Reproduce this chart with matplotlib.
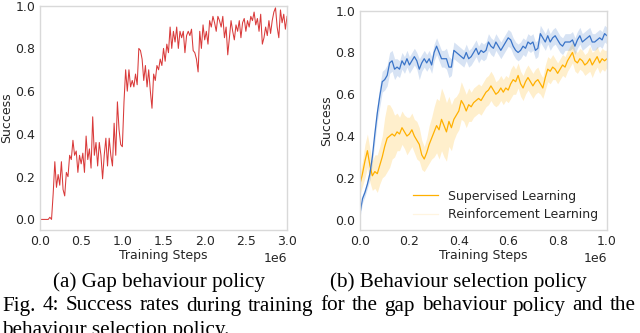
import matplotlib
matplotlib.use("Agg")
import matplotlib.pyplot as plt
import numpy as np

# (a) gap behaviour policy, one run, 0 .. 3e6 steps
gap_steps = np.linspace(0, 3.0e6, 151)
gap_success = [
    0.00, 0.00, 0.00, 0.00, 0.00, 0.00, 0.01, 0.00, 0.12, 0.27,
    0.15, 0.21, 0.16, 0.27, 0.14, 0.11, 0.22, 0.20, 0.30, 0.28,
    0.37, 0.30, 0.32, 0.22, 0.30, 0.26, 0.31, 0.22, 0.39, 0.28,
    0.33, 0.24, 0.48, 0.30, 0.36, 0.25, 0.36, 0.30, 0.19, 0.30,
    0.38, 0.25, 0.38, 0.30, 0.25, 0.45, 0.30, 0.55, 0.42, 0.35,
    0.34, 0.55, 0.70, 0.60, 0.70, 0.62, 0.65, 0.62, 0.68, 0.63,
    0.80, 0.79, 0.75, 0.65, 0.72, 0.62, 0.70, 0.60, 0.52, 0.68,
    0.65, 0.72, 0.70, 0.75, 0.72, 0.80, 0.74, 0.82, 0.78, 0.90,
    0.80, 0.88, 0.83, 0.90, 0.80, 0.88, 0.85, 0.88, 0.78, 0.86,
    0.88, 0.86, 0.89, 0.79, 0.78, 0.75, 0.69, 0.88, 0.80, 0.91,
    0.84, 0.88, 0.82, 0.93, 0.90, 0.95, 0.92, 0.88, 0.95, 0.93,
    0.90, 0.95, 0.85, 0.90, 0.77, 0.85, 0.93, 0.88, 0.84, 0.91,
    0.88, 0.93, 0.85, 0.92, 0.94, 0.88, 0.93, 0.90, 0.95, 0.93,
    0.97, 0.91, 0.94, 0.88, 0.96, 0.82, 0.85, 0.90, 0.86, 0.93,
    0.87, 0.93, 0.97, 0.99, 0.90, 0.85, 0.98, 0.92, 0.96, 0.89,
    0.95,
]

# (b) behaviour selection policy, mean and band half width, 0 .. 1e6 steps
sel_steps = np.linspace(0, 1.0e6, 101)
sl_mean = [
    0.17, 0.22, 0.28, 0.33, 0.26, 0.21, 0.23, 0.22, 0.26, 0.30,
    0.35, 0.39, 0.40, 0.41, 0.40, 0.42, 0.41, 0.44, 0.42, 0.40,
    0.41, 0.43, 0.40, 0.38, 0.36, 0.31, 0.29, 0.32, 0.36, 0.39,
    0.42, 0.45, 0.43, 0.48, 0.45, 0.42, 0.47, 0.44, 0.48, 0.50,
    0.52, 0.57, 0.55, 0.52, 0.55, 0.54, 0.56, 0.57, 0.58, 0.57,
    0.59, 0.61, 0.62, 0.64, 0.62, 0.60, 0.61, 0.63, 0.61, 0.63,
    0.62, 0.65, 0.67, 0.66, 0.69, 0.65, 0.63, 0.66, 0.68, 0.66,
    0.64, 0.66, 0.67, 0.65, 0.63, 0.68, 0.72, 0.71, 0.73, 0.72,
    0.70, 0.72, 0.74, 0.73, 0.76, 0.78, 0.80, 0.76, 0.75, 0.77,
    0.76, 0.74, 0.75, 0.77, 0.74, 0.76, 0.78, 0.75, 0.77, 0.76,
    0.77,
]
sl_band = [
    0.05, 0.06, 0.08, 0.08, 0.08, 0.07, 0.08, 0.09, 0.09, 0.10,
    0.14, 0.16, 0.15, 0.12, 0.10, 0.09, 0.08, 0.08, 0.08, 0.09,
    0.08, 0.08, 0.08, 0.09, 0.08, 0.07, 0.06, 0.07, 0.09, 0.10,
    0.12, 0.13, 0.14, 0.15, 0.15, 0.14, 0.12, 0.11, 0.10, 0.09,
    0.09, 0.09, 0.08, 0.08, 0.08, 0.07, 0.07, 0.07, 0.07, 0.07,
    0.07, 0.07, 0.07, 0.07, 0.07, 0.06, 0.06, 0.06, 0.06, 0.06,
    0.06, 0.07, 0.07, 0.06, 0.06, 0.06, 0.06, 0.06, 0.06, 0.06,
    0.06, 0.06, 0.06, 0.05, 0.05, 0.06, 0.06, 0.06, 0.06, 0.05,
    0.05, 0.05, 0.05, 0.05, 0.05, 0.05, 0.05, 0.05, 0.05, 0.05,
    0.05, 0.05, 0.05, 0.06, 0.06, 0.05, 0.05, 0.05, 0.05, 0.05,
    0.04,
]
rl_mean = [
    0.03, 0.10, 0.13, 0.17, 0.22, 0.30, 0.41, 0.51, 0.59, 0.66,
    0.67, 0.69, 0.75, 0.76, 0.72, 0.73, 0.72, 0.76, 0.74, 0.77,
    0.74, 0.76, 0.78, 0.76, 0.72, 0.75, 0.77, 0.75, 0.77, 0.74,
    0.80, 0.83, 0.80, 0.77, 0.77, 0.77, 0.73, 0.73, 0.81, 0.80,
    0.79, 0.78, 0.77, 0.80, 0.77, 0.78, 0.80, 0.82, 0.79, 0.81,
    0.80, 0.81, 0.85, 0.83, 0.82, 0.85, 0.83, 0.81, 0.83, 0.85,
    0.87, 0.86, 0.83, 0.81, 0.80, 0.81, 0.83, 0.82, 0.85, 0.84,
    0.85, 0.81, 0.82, 0.89, 0.87, 0.85, 0.88, 0.85, 0.87, 0.88,
    0.86, 0.84, 0.83, 0.85, 0.85, 0.85, 0.86, 0.83, 0.86, 0.88,
    0.85, 0.86, 0.87, 0.88, 0.85, 0.85, 0.86, 0.87, 0.86, 0.89,
    0.88,
]
rl_band = [
    0.02, 0.02, 0.02, 0.02, 0.03, 0.03, 0.04, 0.04, 0.05, 0.05,
    0.05, 0.05, 0.05, 0.05, 0.05, 0.04, 0.04, 0.04, 0.04, 0.04,
    0.04, 0.04, 0.04, 0.04, 0.05, 0.04, 0.04, 0.04, 0.04, 0.04,
    0.04, 0.04, 0.04, 0.04, 0.04, 0.05, 0.05, 0.04, 0.04, 0.04,
    0.04, 0.04, 0.04, 0.04, 0.04, 0.04, 0.04, 0.04, 0.04, 0.04,
    0.04, 0.04, 0.04, 0.04, 0.04, 0.04, 0.04, 0.04, 0.04, 0.04,
    0.04, 0.04, 0.04, 0.04, 0.04, 0.04, 0.04, 0.04, 0.04, 0.04,
    0.04, 0.04, 0.04, 0.04, 0.04, 0.04, 0.04, 0.04, 0.04, 0.04,
    0.04, 0.04, 0.04, 0.04, 0.04, 0.04, 0.04, 0.04, 0.04, 0.04,
    0.04, 0.04, 0.04, 0.04, 0.04, 0.04, 0.04, 0.04, 0.04, 0.04,
    0.04,
]

RED = "#d93a3a"
ORANGE = "#ffb000"
BLUE = "#3a74c8"
GREY_TXT = "#262626"
FS = 9

plt.rcParams["font.family"] = "DejaVu Sans"
plt.rcParams["font.size"] = FS

fig = plt.figure(figsize=(6.4, 3.33), dpi=100)
ax_a = fig.add_axes([0.0625, 0.309, 0.386, 0.674])
ax_b = fig.add_axes([0.5625, 0.309, 0.386, 0.659])


def style_axes(ax, xmax):
    ax.set_xlim(0, xmax)
    ax.set_ylim(-0.05, 1.0)
    ax.set_yticks([0.0, 0.2, 0.4, 0.6, 0.8, 1.0])
    for s in ax.spines.values():
        s.set_color("#d9d9d9")
        s.set_linewidth(1.0)
    ax.tick_params(length=0, pad=3.5, colors=GREY_TXT, labelsize=FS)
    ax.set_xlabel("Training Steps", color=GREY_TXT, fontsize=FS, labelpad=1)
    ax.set_ylabel("Success", color=GREY_TXT, fontsize=FS)
    # the label's right edge is about 28 px left of the axes
    ax.yaxis.set_label_coords(-0.11, 0.5)
    ax.xaxis.get_offset_text().set_color(GREY_TXT)
    ax.xaxis.get_offset_text().set_fontsize(FS)


ax_a.plot(gap_steps, gap_success, color=RED, lw=0.75)
style_axes(ax_a, 3.0e6)
ax_a.set_xticks([0, 0.5e6, 1.0e6, 1.5e6, 2.0e6, 2.5e6, 3.0e6])

sl_mean = np.array(sl_mean)
rl_mean = np.array(rl_mean)
sl_band = np.array(sl_band)
rl_band = np.array(rl_band)

ax_b.fill_between(sel_steps, sl_mean - sl_band, sl_mean + sl_band,
                  color=ORANGE, alpha=0.2, lw=0)
ax_b.fill_between(sel_steps, rl_mean - rl_band, rl_mean + rl_band,
                  color=BLUE, alpha=0.2, lw=0)
h_sl, = ax_b.plot(sel_steps, sl_mean, color=ORANGE, lw=0.9)
ax_b.plot(sel_steps, rl_mean, color=BLUE, lw=0.9)
# the second legend entry in the original is nearly invisible
h_rl, = ax_b.plot([], [], color=ORANGE, lw=0.9, alpha=0.12)
style_axes(ax_b, 1.0e6)
ax_b.set_xticks([0, 0.2e6, 0.4e6, 0.6e6, 0.8e6, 1.0e6])
leg = ax_b.legend([h_sl, h_rl], ["Supervised Learning", "Reinforcement Learning"],
                  loc="lower right", frameon=False, fontsize=FS,
                  handlelength=2.0, borderaxespad=0.3, labelspacing=0.45)
for t in leg.get_texts():
    t.set_color(GREY_TXT)

serif = "Liberation Serif"
CAP_FS = 15.2
W, H = 640, 333
fig.text(53 / W, 1 - 282 / H, "(a) Gap behaviour policy", family=serif,
         fontsize=CAP_FS, ha="left", va="center")
fig.text(330 / W, 1 - 282 / H, "(b) Behaviour selection policy", family=serif,
         fontsize=CAP_FS, ha="left", va="center")

# justified first line of the figure caption
line1 = "Fig. 4: Success rates during training for the gap behaviour policy and the"
words = [fig.text(0, 1 - 306 / H, w, family=serif, fontsize=CAP_FS,
                  ha="left", va="center") for w in line1.split()]
renderer = fig.canvas.get_renderer()
widths = [t.get_window_extent(renderer).width for t in words]
gap = (636 - 2 - sum(widths)) / (len(words) - 1)
x = 2
for t, w in zip(words, widths):
    t.set_x(x / W)
    x += w + gap

# second caption line is cut by the bottom edge, as in the original
fig.text(2 / W, 1 - 331 / H, "behaviour selection policy.", family=serif,
         fontsize=CAP_FS, ha="left", va="center")

fig.savefig("out.png", dpi=100)
